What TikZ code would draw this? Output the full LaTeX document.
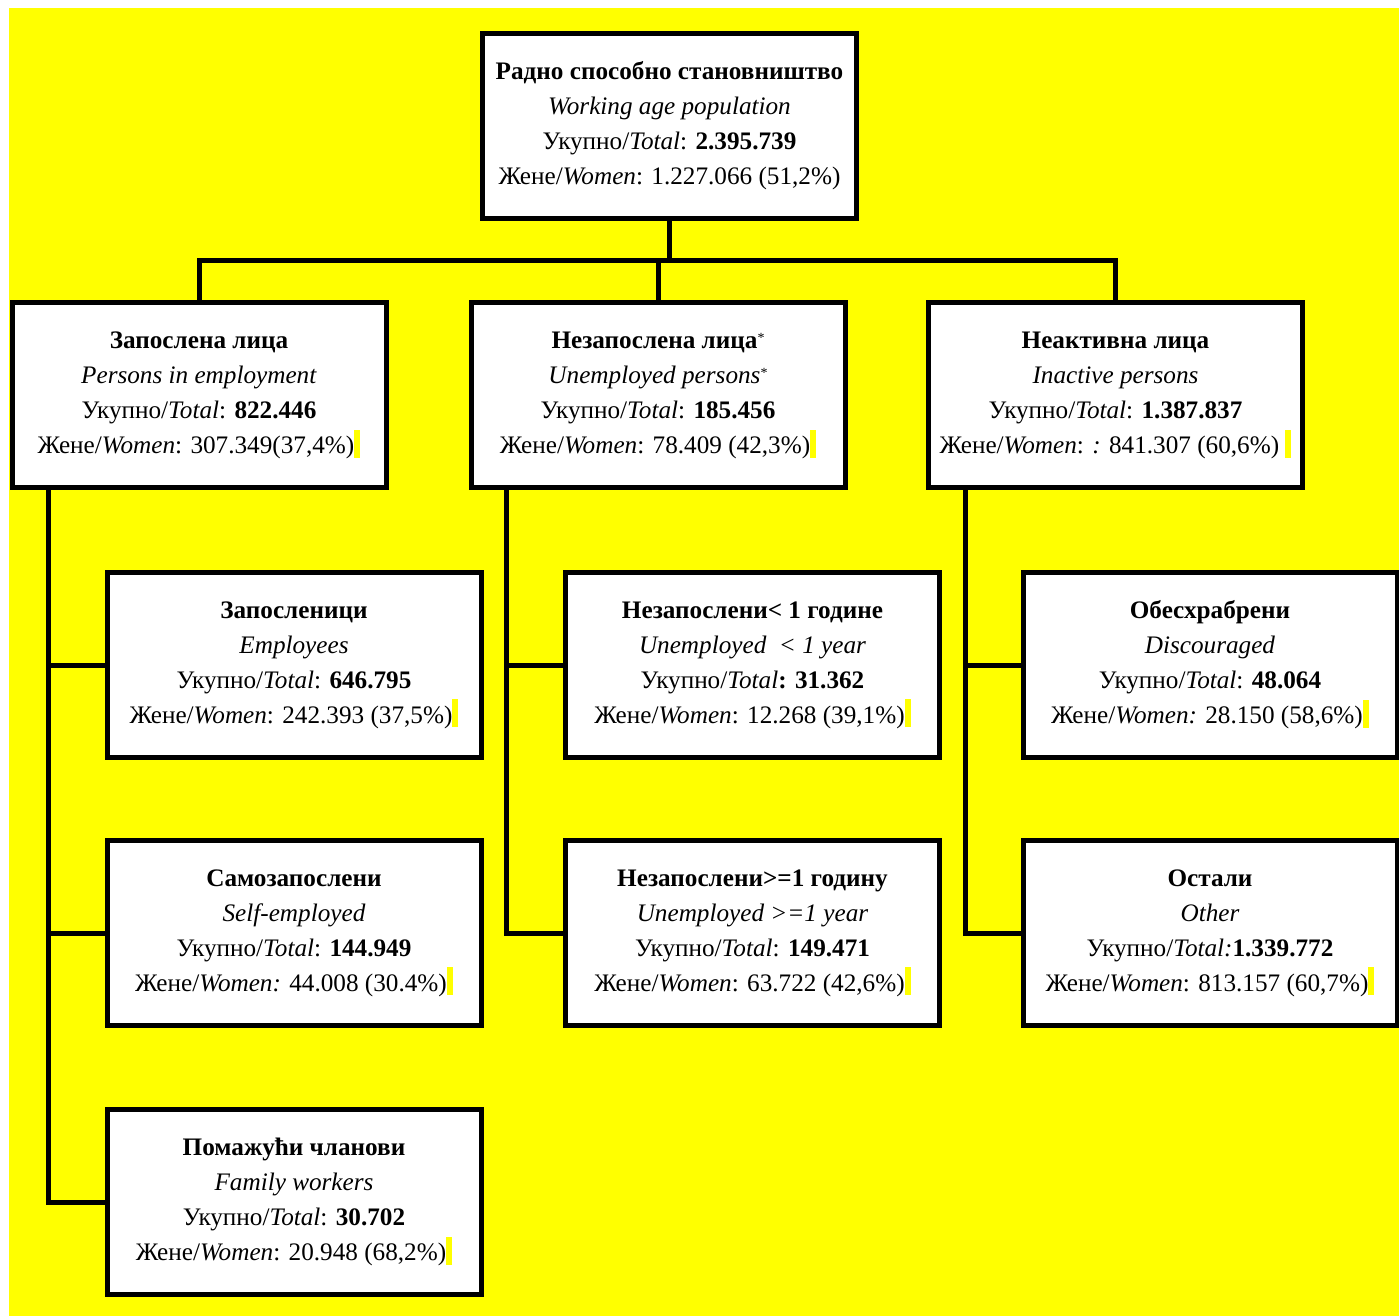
\documentclass[tikz,border=0pt]{standalone}
\usepackage{fontspec}
\setmainfont{Liberation Serif}
\usetikzlibrary{positioning}
\definecolor{zuta}{RGB}{255,255,0}
\tikzstyle{kutija} = [draw=black, fill=white, line width=2.5pt, rectangle, align=center, minimum width=187pt, minimum height=92.5pt, inner sep=0pt, font=\fontsize{12.6}{17.5}\selectfont]
\tikzstyle{veza} = [draw=black, line width=2.5pt]
\newcommand{\zuto}{{\color{zuta}\rule[-2pt]{3pt}{14pt}}}
\newcommand{\zvez}{\raisebox{0.5ex}{\scriptsize *}}

\begin{document}
\begin{tikzpicture}[x=0.5pt, y=-0.5pt]
	\useasboundingbox (0,0) rectangle (1399,1316);
	\fill[white] (0,0) rectangle (1399,1316);
	\fill[zuta] (9,8) rectangle (1399,1316);
	% vrh
	\node[kutija] (radno) at (669.5,126) {\textbf{Радно способно становништво}\\
		\textit{Working age population}\\
		Укупно/\textit{Total}: \textbf{2.395.739}\\
		Жене/\textit{Women}: 1.227.066 (51,2\%)};
	% drugi nivo
	\node[kutija] (zaposlena) at (199,395.5) {\textbf{Запослена лица}\\
		\textit{Persons in employment}\\
		Укупно/\textit{Total}: \textbf{822.446}\\
		Жене/\textit{Women}: 307.349(37,4\%)\zuto};
	\node[kutija] (nezaposlena) at (658,395.5) {\textbf{Незапослена лица}\zvez\\
		\textit{Unemployed persons}\zvez\\
		Укупно/\textit{Total}: \textbf{185.456}\\
		Жене/\textit{Women}: 78.409 (42,3\%)\zuto};
	\node[kutija] (neaktivna) at (1115.5,395.5) {\textbf{Неактивна лица}\\
		\textit{Inactive persons}\\
		Укупно/\textit{Total}: \textbf{1.387.837}\\
		Жене/\textit{Women}: \textit{:} 841.307 (60,6\%) \zuto};
	% zaposleni
	\node[kutija] (zaposlenici) at (294,665) {\textbf{Запосленици}\\
		\textit{Employees}\\
		Укупно/\textit{Total}: \textbf{646.795}\\
		Жене/\textit{Women}: 242.393 (37,5\%)\zuto};
	\node[kutija, below=39pt of zaposlenici] (samozaposleni) {\textbf{Самозапослени}\\
		\textit{Self-employed}\\
		Укупно/\textit{Total}: \textbf{144.949}\\
		Жене/\textit{Women:} 44.008 (30.4\%)\zuto};
	\node[kutija, below=39.5pt of samozaposleni] (pomazuci) {\textbf{Помажући чланови}\\
		\textit{Family workers}\\
		Укупно/\textit{Total}: \textbf{30.702}\\
		Жене/\textit{Women}: 20.948 (68,2\%)\zuto};
	% nezaposleni
	\node[kutija] (manje) at (752.5,665) {\textbf{Незапослени< 1 године}\\
		\textit{Unemployed\ \ < 1 year}\\
		Укупно/\textit{Total}\textbf{: 31.362}\\
		Жене/\textit{Women}: 12.268 (39,1\%)\zuto};
	\node[kutija, below=39pt of manje] (vise) {\textbf{Незапослени>=1 годину}\\
		\textit{Unemployed >=1 year}\\
		Укупно/\textit{Total}: \textbf{149.471}\\
		Жене/\textit{Women}: 63.722 (42,6\%)\zuto};
	% neaktivni
	\node[kutija] (obeshrabreni) at (1210,665) {\textbf{Обесхрабрени}\\
		\textit{Discouraged}\\
		Укупно/\textit{Total}: \textbf{48.064}\\
		Жене/\textit{Women:} 28.150 (58,6\%)\zuto};
	\node[kutija, below=39pt of obeshrabreni] (ostali) {\textbf{Остали}\\
		\textit{Other}\\
		Укупно/\textit{Total:}\textbf{1.339.772}\\
		Жене/\textit{Women}: 813.157 (60,7\%)\zuto};
	% veze
	\coordinate (razvod) at (669.5,261);
	\draw[veza] (radno.south) -- (razvod);
	\draw[veza] (zaposlena.north) |- (razvod) -| (neaktivna.north);
	\draw[veza] (nezaposlena.north) -- (nezaposlena.north |- razvod);
	\draw[veza] ([xshift=19.5pt]zaposlena.south west) |- (zaposlenici.west);
	\draw[veza] ([xshift=19.5pt]zaposlena.south west) |- (samozaposleni.west);
	\draw[veza] ([xshift=19.5pt]zaposlena.south west) |- (pomazuci.west);
	\draw[veza] ([xshift=19pt]nezaposlena.south west) |- (manje.west);
	\draw[veza] ([xshift=19pt]nezaposlena.south west) |- (vise.west);
	\draw[veza] ([xshift=19.5pt]neaktivna.south west) |- (obeshrabreni.west);
	\draw[veza] ([xshift=19.5pt]neaktivna.south west) |- (ostali.west);
\end{tikzpicture}
\end{document}
